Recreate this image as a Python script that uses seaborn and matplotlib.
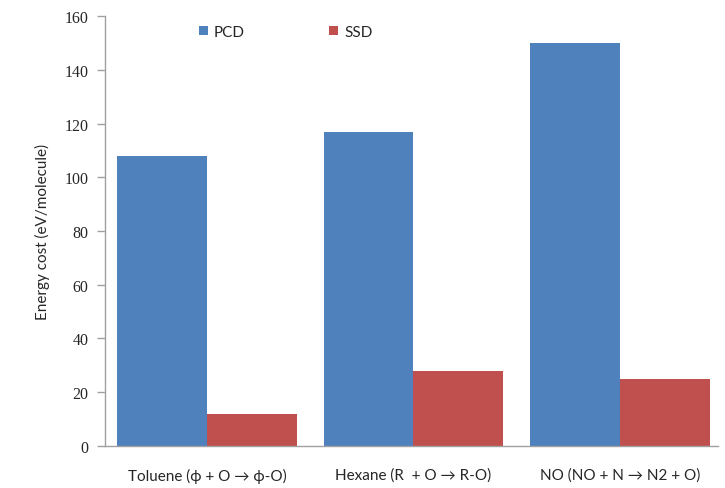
import pandas as pd
import matplotlib.pyplot as plt
import seaborn as sns

# data
categories = ["Toluene (\u03d5 + O \u2192 \u03d5-O)", "Hexane (R  + O \u2192 R-O)", "NO (NO + N \u2192 N2 + O)"]
pcd = [108, 117, 150]
ssd = [12, 28, 25]

df = pd.DataFrame({
    "cat": categories * 2,
    "val": pcd + ssd,
    "series": ["PCD"] * 3 + ["SSD"] * 3,
})

sns.set_style("white")
plt.rcParams['font.family'] = ['Lato', 'DejaVu Sans']

fig = plt.figure(figsize=(7.25, 4.89), dpi=100)
ax = fig.add_axes([0.1448, 0.086, 0.845, 0.879])

sns.barplot(data=df, x="cat", y="val", hue="series", palette=["#4F81BD", "#C0504D"],
            width=0.87, saturation=1, linewidth=0, ax=ax)

ax.set_ylim(0, 160)
ax.set_xlim(-0.494, 2.473)
ax.set_yticks(range(0, 161, 20))
ax.set_xlabel("")
ax.set_ylabel("Energy cost (eV/molecule)", fontsize=11)
ax.yaxis.labelpad = 10

for lab in ax.get_yticklabels():
    lab.set_family(['Liberation Serif', 'DejaVu Serif'])
    lab.set_fontsize(11.5)
for lab in ax.get_xticklabels():
    lab.set_fontsize(11)

ax.tick_params(axis='y', left=True, length=6, color='#a0a0a0', width=1, pad=6)
ax.tick_params(axis='x', bottom=False, pad=12)
for s in ['top', 'right']:
    ax.spines[s].set_visible(False)
for s in ['left', 'bottom']:
    ax.spines[s].set_color('#a0a0a0')
    ax.spines[s].set_linewidth(1)

ax.legend(loc='upper left', bbox_to_anchor=(0.255, 0.975), bbox_transform=fig.transFigure,
          ncol=2, frameon=False, fontsize=11, handlelength=0.6, handleheight=0.6,
          columnspacing=5.5, handletextpad=0.4)

fig.savefig("out.png", dpi=100)
